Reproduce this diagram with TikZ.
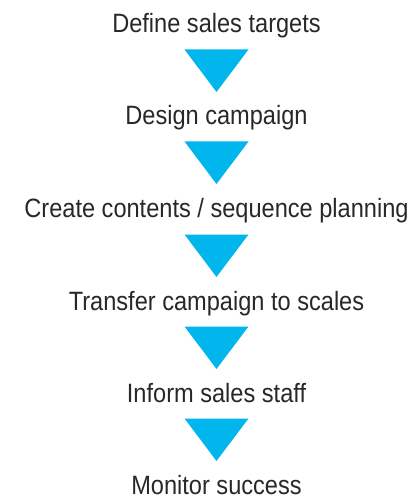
\documentclass[tikz,border=0pt]{standalone}
\usepackage{fontspec}
\setmainfont[FakeStretch=0.89]{Liberation Sans}
\usetikzlibrary{calc}
\definecolor{flowcyan}{RGB}{0,182,237}
\definecolor{flowgray}{RGB}{40,40,40}
\begin{document}
\begin{tikzpicture}[x=1pt,y=-1pt,
  stepname/.style={anchor=base, inner sep=0pt, text=flowgray,
    font=\fontsize{26.5}{30}\selectfont},
  flowtri/.style={fill=flowcyan}]
\useasboundingbox (0,0) rectangle (411,502);

% process steps, one per line
\node[stepname] (s1) at (216.5,33)  {Define sales targets};
\node[stepname] (s2) at (216.5,125) {Design campaign};
\node[stepname] (s3) at (216.5,218) {Create contents / sequence planning};
\node[stepname] (s4) at (216.5,310) {Transfer campaign to scales};
\node[stepname] (s5) at (216.5,402) {Inform sales staff};
\node[stepname] (s6) at (216.5,494) {Monitor success};

% downward triangles linking consecutive steps
\foreach \a/\b in {s1/s2,s2/s3,s3/s4,s4/s5,s5/s6}{
  \fill[flowtri] ($(\a.base)+(-32,16.5)$) -- ++(64,0)
    -- ($(\a.base)+(0,59)$) -- cycle;
}
\end{tikzpicture}
\end{document}
